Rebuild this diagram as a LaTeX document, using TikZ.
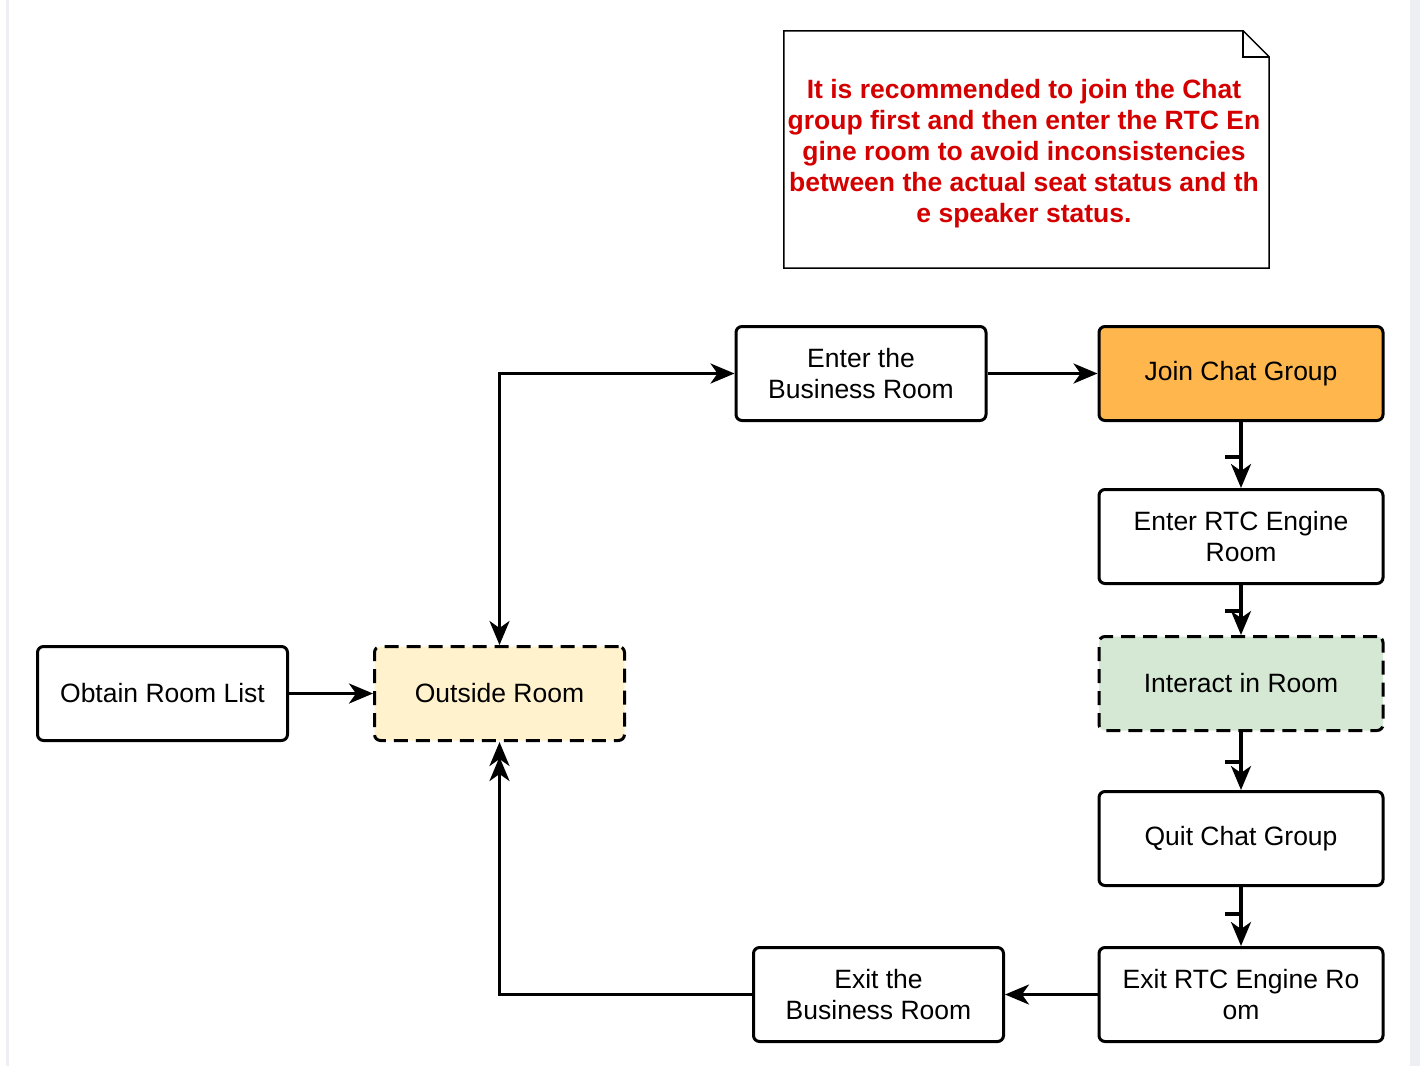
\documentclass[tikz,border=0pt]{standalone}
\usepackage{fontspec}
\setmainfont{Liberation Sans}
\usetikzlibrary{arrows.meta}
\definecolor{notered}{RGB}{212,0,0}
\definecolor{orangefill}{RGB}{255,183,77}
\definecolor{yellowfill}{RGB}{255,242,204}
\definecolor{greenfill}{RGB}{213,232,212}
\definecolor{edgegray}{RGB}{238,239,243}
\tikzset{
  box/.style={draw, line width=3pt, rounded corners=6pt, minimum width=250pt,
    minimum height=94pt, align=center, inner sep=0pt,
    font=\fontsize{26.5}{31}\selectfont},
  widebox/.style={box, minimum width=284pt},
  dashbox/.style={dash pattern=on 14pt off 8pt},
  conn/.style={line width=3.2pt, -{Stealth[length=24pt, width=20pt, inset=7pt]}},
  notetext/.style={align=center, text=notered, font=\bfseries\fontsize{26.5}{31}\selectfont}
}
\begin{document}
\begin{tikzpicture}[x=1pt, y=-1pt]
\useasboundingbox (0,0) rectangle (1420,1066);
% faint page edges
\fill[edgegray] (6,0) rectangle (9,1066);
\fill[edgegray] (1410,0) rectangle (1420,1066);

% note with folded corner
\node[minimum width=485pt, minimum height=237pt, inner sep=0pt] (note) at (1026.5,149.5) {};
\draw[line width=1.5pt, line join=miter]
  (note.north west) -- ([xshift=-26pt]note.north east) -- ([yshift=-26pt]note.north east)
  -- (note.south east) -- (note.south west) -- cycle;
\draw[line width=1.5pt]
  ([xshift=-26pt]note.north east) -- ([xshift=-26pt, yshift=-26pt]note.north east)
  -- ([yshift=-26pt]note.north east);
\node[notetext] (notelabel) at (1024,153.5)
  {It is recommended to join the Chat\\
   group first and then enter the RTC En\\
   gine room to avoid inconsistencies\\
   between the actual seat status and th\\
   e speaker status.};

% boxes
\node[box] (obtain) at (162.5,693.5) {Obtain Room List};
\node[box, dashbox, fill=yellowfill] (outside) at (499.5,693.5) {Outside Room};
\node[box] (enter) at (861,373.5) {Enter the\\Business Room};
\node[widebox, fill=orangefill] (join) at (1241,373.5) {Join Chat Group};
\node[widebox] (rtc) at (1241,536.5) {Enter RTC Engine\\Room};
\node[widebox, dashbox, fill=greenfill] (interact) at (1241,683.5) {Interact in Room};
\node[widebox] (quit) at (1241,838.5) {Quit Chat Group};
\node[widebox] (exitrtc) at (1241,994.5) {Exit RTC Engine Ro\\om};
\node[box] (exitbiz) at (878.5,994.5) {Exit the\\Business Room};

% connectors
\draw[conn] (obtain) -- (outside);
\draw[conn, {Stealth[length=24pt, width=20pt, inset=7pt]}-{Stealth[length=24pt, width=20pt, inset=7pt]}]
  (outside.north) |- (enter.west);
\draw[conn] (enter) -- (join);
\draw[conn] (join.south) -- ++(0,35) -- ++(-16,0) ++(16,0) -- (rtc.north);
\draw[conn] (rtc.south) -- ++(0,26) -- ++(-16,0) ++(16,0) -- (interact.north);
\draw[conn] (interact.south) -- ++(0,30) -- ++(-16,0) ++(16,0) -- (quit.north);
\draw[conn] ([yshift=3pt]quit.south) -- ++(0,30) -- ++(-16,0) ++(16,0) -- (exitrtc.north);
\draw[conn] (exitrtc) -- (exitbiz);
\draw[line width=3.2pt,
  -{Stealth[length=24pt, width=20pt, inset=7pt, sep=-9pt]Stealth[length=24pt, width=20pt, inset=7pt]}]
  (exitbiz.west) -| (outside.south);
\end{tikzpicture}
\end{document}
